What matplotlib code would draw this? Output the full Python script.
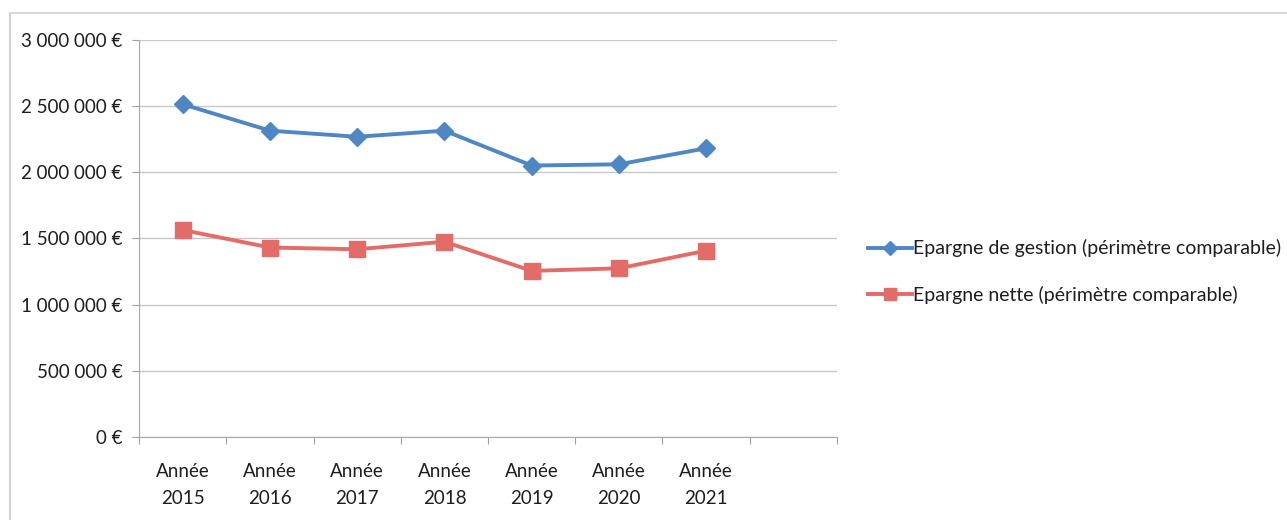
import matplotlib
matplotlib.use('Agg')
import matplotlib.pyplot as plt
from matplotlib.lines import Line2D
from matplotlib.ticker import FuncFormatter, MultipleLocator

# valeurs annuelles (en euros)
annees = ['Année\n2015', 'Année\n2016', 'Année\n2017', 'Année\n2018',
          'Année\n2019', 'Année\n2020', 'Année\n2021']
epargne_gestion = [2511000, 2312000, 2266000, 2312000, 2049000, 2058000, 2179000]
epargne_nette = [1562000, 1430000, 1417000, 1474000, 1254000, 1273000, 1406000]
noms_series = ['Epargne de gestion (périmètre comparable)',
               'Epargne nette (périmètre comparable)']

plt.rcParams['font.family'] = ['Lato', 'DejaVu Sans']
plt.rcParams['font.size'] = 13.5
plt.rcParams['text.color'] = '#1E1E1E'
plt.rcParams['xtick.labelcolor'] = '#1E1E1E'
plt.rcParams['ytick.labelcolor'] = '#1E1E1E'

fig = plt.figure(figsize=(12.87, 5.2), dpi=100)
ax = fig.add_axes([0.1082, 0.1596, 0.542, 0.7644])

x = list(range(len(annees)))
ax.plot(x, epargne_gestion, color='#4F87C4', lw=2.8, marker='D', markersize=9,
        label=noms_series[0], zorder=3)
ax.plot(x, epargne_nette, color='#E46C68', lw=2.8, marker='s', markersize=11,
        label=noms_series[1], zorder=3)

ax.set_ylim(0, 3000000)
ax.set_xlim(-0.5, 7.5)
ax.yaxis.set_major_locator(MultipleLocator(500000))


def euros(v, pos):
    return '{:,.0f} €'.format(v).replace(',', ' ')


ax.yaxis.set_major_formatter(FuncFormatter(euros))
ax.grid(axis='y', color='#C8C8C8', lw=1)
ax.set_axisbelow(True)

# ticks at category boundaries, labels at centres
ax.set_xticks([i - 0.5 for i in range(9)])
ax.set_xticklabels([])
ax.set_xticks(x, minor=True)
ax.set_xticklabels(annees, minor=True, linespacing=1.7)
ax.tick_params(axis='x', which='major', length=5, color='#A0A0A0')
ax.tick_params(axis='x', which='minor', length=0, pad=19)
ax.tick_params(axis='y', length=5, color='#A0A0A0', pad=7)

for s in ['top', 'right']:
    ax.spines[s].set_visible(False)
ax.spines['left'].set_color('#A8A8A8')
ax.spines['bottom'].set_color('#A8A8A8')

fig.legend(loc='center left', bbox_to_anchor=(0.6605, 0.478), frameon=False,
           handlelength=2.3, handletextpad=0.05, labelspacing=1.45,
           markerscale=0.8, fontsize=14.0)

# cadre du graphique
fig.add_artist(Line2D([0.0075, 0.0075], [0, 0.975], color='#D0D0D0', lw=1.5))
fig.add_artist(Line2D([0.0075, 1], [0.975, 0.975], color='#D8D8D8', lw=1.5))

fig.savefig('out.png', dpi=100)
